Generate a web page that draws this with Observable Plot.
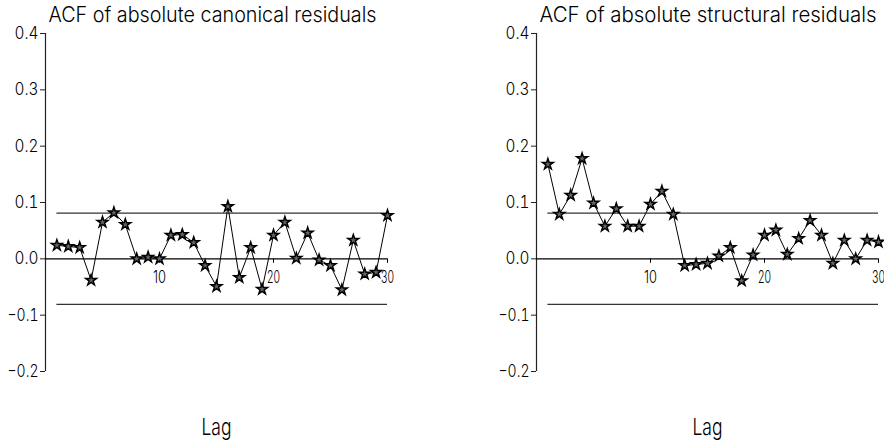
<!DOCTYPE html>
<html>
<head>
<meta charset="utf-8">
<script src="https://cdn.jsdelivr.net/npm/d3@7"></script>
<script src="https://cdn.jsdelivr.net/npm/@observablehq/plot@0.6"></script>
<style>
  html, body { margin: 0; padding: 0; background: #fff; }
  #wrap { position: relative; width: 884px; height: 445px; overflow: hidden; }
  .panel { position: absolute; top: 0; }
  .panel svg { overflow: visible; }
</style>
</head>
<body>
<div id="wrap">
  <div class="panel" id="left" style="left:0px"></div>
  <div class="panel" id="right" style="left:491px"></div>
</div>
<script>
const lags = d3.range(1, 31);
const canonicalAcf = [0.024, 0.022, 0.020, -0.038, 0.065, 0.082, 0.061, 0.000, 0.003, 0.000,
                      0.042, 0.043, 0.029, -0.012, -0.049, 0.093, -0.033, 0.020, -0.054, 0.042,
                      0.065, 0.001, 0.046, -0.002, -0.012, -0.055, 0.033, -0.027, -0.024, 0.077];
const structuralAcf = [0.168, 0.079, 0.113, 0.178, 0.099, 0.058, 0.089, 0.058, 0.058, 0.097,
                       0.120, 0.079, -0.012, -0.010, -0.008, 0.005, 0.020, -0.039, 0.007, 0.042,
                       0.051, 0.008, 0.036, 0.068, 0.042, -0.008, 0.033, 0.000, 0.033, 0.030];
const bound = 0.081;
const yTicks = [-0.2, -0.1, 0.0, 0.1, 0.2, 0.3, 0.4];
const xTicks = [10, 20, 30];
const titles = ["ACF of absolute canonical residuals", "ACF of absolute structural residuals"];
const xLabel = "Lag";

const FONT = "Inter, 'DejaVu Sans', sans-serif";

function squeeze(plot, selector, len) {
  plot.querySelectorAll(selector).forEach(t => {
    t.setAttribute("textLength", typeof len === "function" ? len(t.textContent) : len);
    t.setAttribute("lengthAdjust", "spacingAndGlyphs");
  });
}

function panel(values, title, width, marginRight, titleLen) {
  const data = lags.map((lag, i) => ({lag, acf: values[i]}));
  const plot = Plot.plot({
    width, height: 445,
    marginLeft: 45, marginRight, marginTop: 33, marginBottom: 74,
    style: {fontFamily: FONT, fontWeight: 300, color: "black", background: "white"},
    x: {domain: [0, 30], axis: null},
    y: {domain: [-0.2, 0.4], axis: null},
    marks: [
      Plot.ruleX([0], {y1: -0.2, y2: 0.4, stroke: "#222", strokeWidth: 1.2}),
      Plot.axisY(yTicks, {anchor: "left", label: null, tickSize: 5, tickPadding: 2, tickFormat: ".1f",
                          fontSize: 17, stroke: "#222", className: "ytk"}),
      Plot.ruleY([0], {x1: 0, x2: 30, stroke: "black", strokeWidth: 1.2}),
      Plot.ruleY([bound, -bound], {x1: 1, x2: 30, stroke: "#333", strokeWidth: 1.2}),
      Plot.ruleX(xTicks, {y1: 0, y2: -0.008, stroke: "black"}),
      Plot.text(xTicks, {x: d => d, y: 0, dy: 19, text: d => String(d), fontSize: 17, lineAnchor: "middle", fill: "black", className: "xtk"}),
      Plot.line(data, {x: "lag", y: "acf", stroke: "black", strokeWidth: 1}),
      Plot.dot(data, {x: "lag", y: "acf", symbol: "star", r: 3.4, stroke: "black", strokeWidth: 1.5, fill: "#666"}),
      Plot.text([title], {frameAnchor: "top-left", dx: 3, dy: -12, lineAnchor: "bottom", textAnchor: "start",
                          fontSize: 21, fill: "black", className: "ttl"}),
      Plot.text([xLabel], {frameAnchor: "bottom", dy: 63, lineAnchor: "bottom", fontSize: 23, fill: "black", className: "xlab"})
    ]
  });
  squeeze(plot, ".ttl text", titleLen);
  squeeze(plot, ".xlab text", 30);
  squeeze(plot, ".xtk text", 13);
  squeeze(plot, ".ytk text", s => s.length > 3 ? 31 : 24);
  return plot;
}

document.getElementById("left").append(panel(canonicalAcf, titles[0], 491, 104, 328));
document.getElementById("right").append(panel(structuralAcf, titles[1], 393, 6, 337));
</script>
</body>
</html>
